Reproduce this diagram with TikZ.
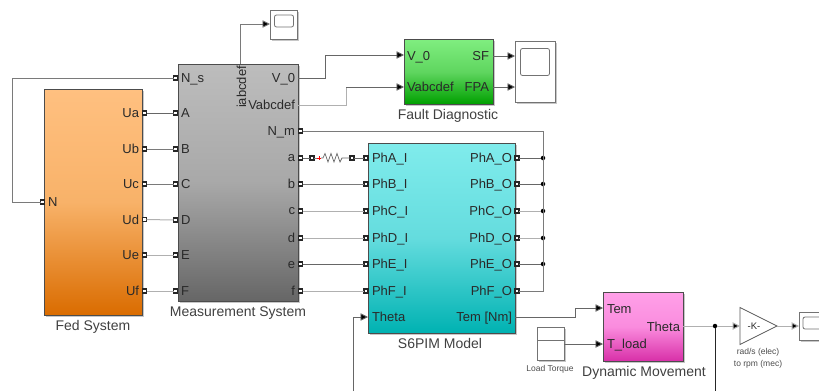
\documentclass[tikz,border=0pt]{standalone}
\usepackage{fontspec}
\setmainfont{Liberation Sans}
\usetikzlibrary{arrows.meta,shapes.geometric}
\definecolor{txt}{HTML}{2A2A2A}
\definecolor{wire}{HTML}{7A7A7A}
\definecolor{wirelight}{HTML}{B0B0B0}
\tikzset{
  x=1pt,y=-1pt,
  every node/.style={inner sep=0pt,outer sep=0pt,text=txt},
  blocklbl/.style={font=\fontsize{13}{15}\selectfont},
  captionlbl/.style={font=\fontsize{14}{16}\selectfont,text=black!75,anchor=base},
  smallcap/.style={font=\fontsize{8.5}{12}\selectfont,text=black!70,align=center},
  blockbox/.style={draw=black!70,line width=0.8pt},
  shadowbox/.style={fill=black!22,draw=none},
  portbox/.style={draw=black!85,fill=white,line width=1.1pt,minimum size=4pt,inner sep=0pt,rectangle},
  wireline/.style={draw=wire,line width=0.9pt},
  wirel/.style={draw=wirelight,line width=1pt},
  wired/.style={draw=black!60,line width=0.9pt},
  arr/.style={-{Triangle[length=7.5pt,width=7.5pt,fill=black]}},
  dotj/.style={circle,fill=black,minimum size=4.5pt,inner sep=0pt},
  scopebox/.style={draw=black!55,fill=white,line width=0.8pt},
  scopescreen/.style={draw=black!55,fill=white,rounded corners=2pt,line width=0.8pt}
}
\begin{document}
\begin{tikzpicture}
\useasboundingbox (0,0) rectangle (819,391);
\clip (0,0) rectangle (819,391);
% ---- blocks
\fill[shadowbox] (46,91) rectangle (144,317);
\node[blockbox,anchor=north west,minimum width=97.5pt,minimum height=226pt,top color={rgb,255:red,255;green,192;blue,128},bottom color={rgb,255:red,218;green,108;blue,0},middle color={rgb,255:red,248;green,178;blue,105}] (fed) at (44.5,89) {};
\fill[shadowbox] (180,66) rectangle (300,303);
\node[blockbox,anchor=north west,minimum width=120pt,minimum height=237pt,top color=black!26,bottom color=black!60,middle color=black!34] (meas) at (178,64) {};
\fill[shadowbox] (370,145) rectangle (517,335);
\node[blockbox,anchor=north west,minimum width=147pt,minimum height=190pt,top color={rgb,255:red,128;green,236;blue,236},bottom color={rgb,255:red,0;green,178;blue,178},middle color={rgb,255:red,100;green,220;blue,222}] (pim) at (368,143) {};
\fill[shadowbox] (406,41) rectangle (495,106);
\node[blockbox,anchor=north west,minimum width=89pt,minimum height=65pt,top color={rgb,255:red,128;green,238;blue,128},bottom color={rgb,255:red,0;green,160;blue,0},middle color={rgb,255:red,96;green,214;blue,96}] (fault) at (404,39) {};
\fill[shadowbox] (605,294) rectangle (685,363);
\node[blockbox,anchor=north west,minimum width=80pt,minimum height=69pt,top color={rgb,255:red,255;green,160;blue,232},bottom color={rgb,255:red,216;green,48;blue,168},middle color={rgb,255:red,250;green,140;blue,222}] (dyn) at (603,292) {};
% ---- scopes
\fill[shadowbox] (272,12) rectangle (299,41);
\node[scopebox,anchor=north west,minimum width=27pt,minimum height=29pt] (sc1) at (270,10) {};
\node[scopescreen,minimum width=19pt,minimum height=12pt] (sc1s) at (284,21) {};
\fill[shadowbox] (517,43) rectangle (557,104);
\node[scopebox,anchor=north west,minimum width=40pt,minimum height=61pt] (sc2) at (515,41) {};
\node[scopescreen,minimum width=29pt,minimum height=27pt] (sc2s) at (535,62) {};
\fill[shadowbox] (801,314) rectangle (830,342);
\node[scopebox,anchor=north west,minimum width=30pt,minimum height=28pt] (sc3) at (799,312) {};
\node[scopescreen,minimum width=24pt,minimum height=12pt] (sc3s) at (815,323) {};
% ---- load torque
\fill[shadowbox] (539,329) rectangle (566,362);
\node[draw=black!55,fill=white,line width=1pt,anchor=north west,minimum width=27pt,minimum height=33pt] (load) at (537,327) {};
\draw[black!55,line width=0.8pt] (537,340) -- (564,340);
% ---- gain
\node[isosceles triangle,isosceles triangle apex angle=53,isosceles triangle stretches,draw=black!65,fill=white,line width=0.8pt,minimum height=37pt,minimum width=37pt,inner sep=0pt,anchor=lower side] (gain) at (740,326) {};
\node[font=\fontsize{9.5}{11}\selectfont] (gaink) at (754,326) {-K-};
% ---- ports
\foreach \n/\x/\y in {fa/144.5/113,fb/144.5/149,fc/144.5/184,fd/144.5/219.5,fe/144.5/255,ff/144.5/291,fn/42.5/202,
  mns/175.5/78,ma/175.5/113,mb/175.5/149,mc/175.5/184,md/175.5/220,me/175.5/255,mf/175.5/291,
  mnm/300.5/131,moa/300.5/158,mob/300.5/184,moc/300.5/211,mod/300.5/238,moe/300.5/264,mof/300.5/291,
  ra/312/158,rb/352/158,
  pa/366/158,pb/366/184,pc/366/211,pd/366/238,pe/366/264,pf/366/291,
  qa/517/158,qb/517/184,qc/517/211,qd/517/238,qe/517/264,qf/517/291}
  \node[portbox] (\n) at (\x,\y) {};
% ---- free ends and junctions
\foreach \n/\x/\y in {m0/298/78,mv/298/105,mi/240/64,fi/404/55,fv/404/87,fs/493/56,fp/493/87,ss/515/56,sv/515/87,
  pt/368/317,po/515/317,ts/603/308,tl/603/344,lo/564/344,dth/683/326,gi/740/326,go/777/326,si/799/326,sc1i/270/24,botL/353/391,botR/715/391}
  \coordinate (\n) at (\x,\y);
\foreach \n/\x/\y in {ja/543/158,jb/543/184,jc/543/211,jd/543/238,je/543/264,jt/715/326}
  \node[dotj] (\n) at (\x,\y) {};
% ---- connectors
\draw[wireline] (fn.west) -- ++(-28,0) |- (mns.west);
\draw[wired] (fa) -- (ma);
\draw[wireline] (fb) -- (mb);
\draw[wireline] (fc) -- (mc);
\draw[wirel] (fd) -- (md);
\draw[wirel] (fe) -- (me);
\draw[wirel] (ff) -- (mf);
\draw[wireline,arr] (mi) -- (240,24) -- (sc1i);
\draw[wired,arr] (m0) -- (325,78) -- (325,55) -- (fi);
\draw[wirel] (mv) -- (346,105) -- (346,87);
\draw[wired,arr] (346,87) -- (fv);
\draw[wired,arr] (fs) -- (ss);
\draw[wired,arr] (fp) -- (sv);
% series resistor
\draw[wired] (moa) -- (ra);
\draw[wireline] (ra.east) -- (318,158);
\draw[red,line width=0.7pt] (317,158) -- (321,158) (319,156) -- (319,160);
\draw[black!60,line width=0.7pt] (321,158) -- (323,158) -- (325,153.5) -- (328,162) -- (331,153.5) -- (334,162) -- (337,153.5) -- (340,162) -- (342,158) -- (rb.west);
\draw[wired] (rb) -- (pa);
\draw[wireline] (mob) -- (pb);
\draw[wirel] (moc) -- (pc);
\draw[wirel] (mod) -- (pd);
\draw[wired] (moe) -- (pe);
\draw[wirel] (mof) -- (pf);
% neutral bus
\draw[wireline] (mnm) -- (543,131) -- (543,291) -- (qf);
\draw[wired] (qa) -- (ja);
\draw[wired] (qb) -- (jb);
\draw[wirel] (qc) -- (jc);
\draw[wirel] (qd) -- (jd);
\draw[wired] (qe) -- (je);
% theta and torque
\draw[wired,arr] (botL) -- (353,317) -- (pt);
\draw[wired] (po) -- (575,317) -- (575,308);
\draw[wired,arr] (575,308) -- (ts);
\draw[wired,arr] (lo) -- (tl);
\draw[wirel] (dth) -- (jt);
\draw[wirel,arr] (jt) -- (gi);
\draw[black!85,line width=0.8pt] (jt) -- (botR);
\draw[wirel,arr] (go) -- (si);
% ---- port labels
\foreach \n/\x/\y/\t in {lfu/48/202/N,lns/181/78/N\_s,lA/181/113/A,lB/181/149/B,lC/181/184/C,lD/181/220/D,lE/181/255/E,lF/181/291/F,
  lpa/372/158/PhA\_I,lpb/372/184/PhB\_I,lpc/372/211/PhC\_I,lpd/372/238/PhD\_I,lpe/372/264/PhE\_I,lpf/372/291/PhF\_I,lth/372/317/Theta,
  lv0/407/56/V\_0,lvab/407/87/Vabcdef,lte/607/309/Tem,ltl/607/344/T\_load}
  \node[blocklbl,anchor=base west,yshift=-4.6pt] (\n) at (\x,\y) {\t};
\foreach \n/\x/\y/\t in {lua/139/113/Ua,lub/139/149/Ub,luc/139/184/Uc,lud/139/219.5/Ud,lue/139/255/Ue,luf/139/291/Uf,
  lo0/295/78/V\_0,lov/295/105/Vabcdef,lnm/295/131/N\_m,loa/295/157/a,lob/295/184/b,loc/295/210/c,lod/295/238/d,loe/295/264/e,lof/295/291/f,
  lqa/512/158/PhA\_O,lqb/512/184/PhB\_O,lqc/512/211/PhC\_O,lqd/512/238/PhD\_O,lqe/512/264/PhE\_O,lqf/512/291/PhF\_O,ltq/512/317/Tem [Nm],
  lsf/489/56/SF,lfpa/489/87/FPA,ldt/680/327/Theta}
  \node[blocklbl,anchor=base east,yshift=-4.6pt] (\n) at (\x,\y) {\t};
\node[blocklbl,rotate=90] (lia) at (241.5,87) {iabcdef};
% ---- captions
\node[captionlbl] (cfed) at (93,330) {Fed System};
\node[captionlbl] (cmeas) at (238,316.5) {Measurement System};
\node[captionlbl] (cfault) at (448,119) {Fault Diagnostic};
\node[captionlbl] (cpim) at (440,348) {S6PIM Model};
\node[captionlbl] (cdyn) at (644,376) {Dynamic Movement};
\node[smallcap] (cload) at (550,369) {Load Torque};
\node[smallcap] (cgain) at (758,358) {rad/s (elec)\\to rpm (mec)};
\end{tikzpicture}
\end{document}
